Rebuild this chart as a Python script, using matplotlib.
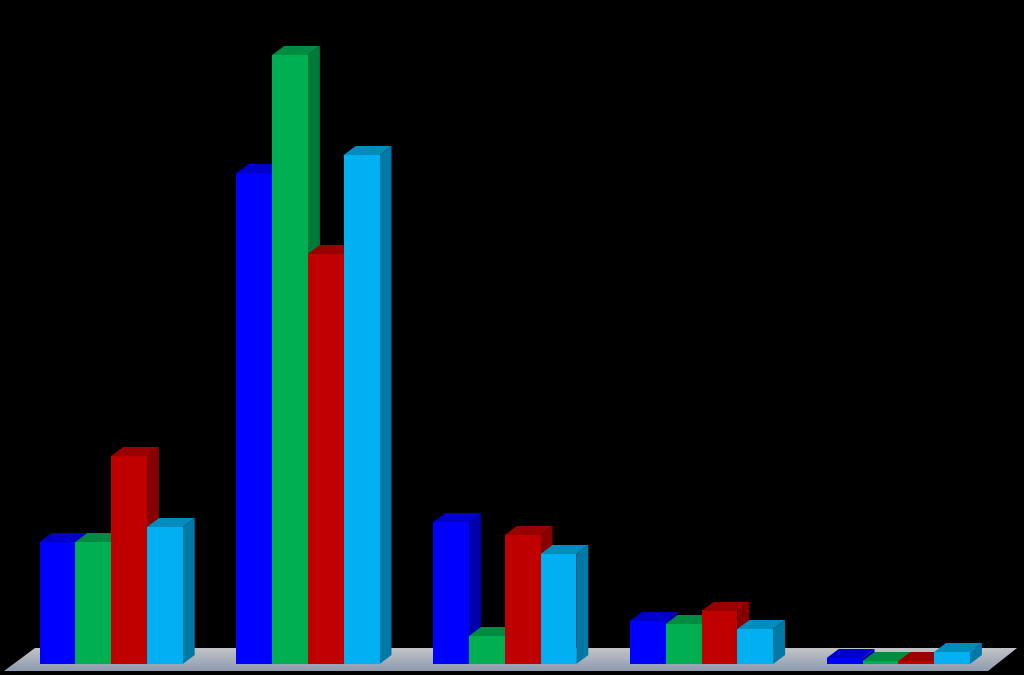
import numpy as np
from matplotlib import pyplot as plt
from matplotlib.patches import Polygon, Rectangle

# bar heights (no axis in the chart, so arbitrary units)
blue = [122, 491, 142, 43, 6]
green = [122, 609, 28, 40, 3]
red = [208, 410, 129, 53, 3]
cyan = [137, 509, 110, 35, 12]

series = [blue, green, red, cyan]
front_cols = ["#0000FF", "#00B050", "#C00000", "#00B0F0"]
top_cols = ["#0000C8", "#008C40", "#990000", "#008CBE"]
side_cols = ["#0000AA", "#007A38", "#860000", "#0079A6"]

bar_w = 35.8
group_step = 196.8
start = 39.5
dx = 12
dy = 9

fig = plt.figure(figsize=(10.24, 6.75), dpi=100, facecolor="black")
ax = fig.add_axes([0, 0, 1, 1])
ax.set_xlim(0, 1024)
ax.set_ylim(-11, 664)
ax.axis("off")

# floor with a vertical gradient
floor = Polygon([(4, -7), (35, 16), (1017, 16), (988, -7)], closed=True, fc="none", ec="none")
ax.add_patch(floor)
grad = np.linspace(0, 1, 64).reshape(-1, 1)
c_top = np.array([0xC2, 0xC4, 0xC7]) / 255
c_bot = np.array([0x8E, 0x9C, 0xB0]) / 255
img = c_top + (c_bot - c_top) * grad[..., None]
im = ax.imshow(img, extent=(0, 1024, -7, 16), aspect="auto", zorder=1)
im.set_clip_path(floor)
ax.set_xlim(0, 1024)
ax.set_ylim(-11, 664)

for g in range(5):
    for s in range(4):
        h = series[s][g]
        x = start + g * group_step + s * bar_w
        side = [(x + bar_w, 0), (x + bar_w + dx, dy), (x + bar_w + dx, h + dy), (x + bar_w, h)]
        top = [(x, h), (x + dx, h + dy), (x + bar_w + dx, h + dy), (x + bar_w, h)]
        z = 2 + g + s * 0.1
        ax.add_patch(Polygon(side, closed=True, fc=side_cols[s], ec="none", zorder=z))
        ax.add_patch(Polygon(top, closed=True, fc=top_cols[s], ec="none", zorder=z + 0.01))
        ax.add_patch(Rectangle((x, 0), bar_w, h, fc=front_cols[s], ec="none", zorder=z + 0.02))

fig.savefig("out.png", dpi=100, facecolor="black")
